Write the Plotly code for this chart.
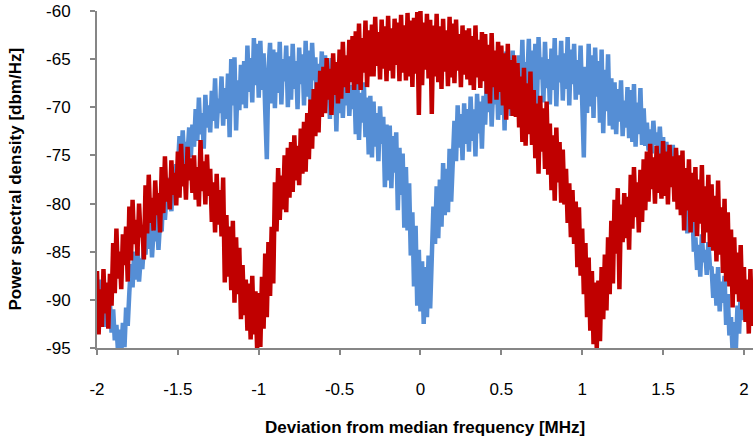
import numpy as np
import plotly.graph_objects as go

# Frequency grid (MHz), 0.01 MHz sampling from -2.00 to 2.06
freq = np.round(np.arange(-2.00, 2.0651, 0.01), 2)

# Blue series (power spectral density, dBm/Hz), one row per 0.1 MHz
psd_blue = [
    -88.4, -91.6, -87.9, -92.3, -89.1, -92.8, -88.6, -91.2, -90.3, -93.4,
    -91.0, -94.2, -92.6, -95.4, -93.1, -95.6, -92.4, -94.9, -90.8, -92.7,
    -89.2, -86.3, -88.7, -85.0, -87.9, -84.6, -88.1, -85.7, -86.8, -84.4,
    -85.3, -82.0, -84.7, -81.4, -85.6, -82.8, -83.9, -81.2, -84.8, -81.9,
    -82.9, -78.6, -81.7, -79.1, -80.4, -77.3, -80.8, -76.5, -79.2, -75.9,
    -76.3, -73.0, -75.6, -72.4, -75.9, -73.6, -74.8, -72.1, -75.2, -71.8,
    -74.1, -70.2, -73.5, -69.0, -72.8, -70.6, -74.3, -68.7, -72.1, -69.8,
    -72.6, -68.3, -71.4, -67.0, -72.2, -69.1, -70.6, -66.8, -71.9, -68.0,
    -71.2, -66.5, -73.1, -65.0, -69.8, -64.8, -72.4, -67.2, -70.3, -65.6,
    -69.7, -65.2, -70.1, -63.6, -68.4, -64.9, -69.5, -62.8, -67.7, -63.4,
    -69.0, -63.1, -68.2, -64.4, -70.3, -75.4, -66.1, -63.3, -69.6, -64.0,
    -70.1, -64.3, -68.5, -63.2, -69.7, -65.0, -67.3, -63.6, -70.0, -64.7,
    -69.2, -63.4, -68.1, -65.2, -70.2, -63.8, -67.6, -64.5, -69.8, -63.1,
    -68.9, -64.1, -69.4, -63.3, -67.2, -64.8, -69.6, -65.5, -68.3, -64.2,
    -70.4, -64.6, -69.1, -65.8, -71.2, -64.9, -69.9, -66.3, -72.5, -66.0,
    -70.6, -66.4, -71.1, -67.2, -69.8, -66.1, -70.9, -67.7, -70.2, -66.9,
    -72.8, -67.6, -73.4, -68.5, -71.6, -67.4, -73.1, -69.0, -74.9, -68.8,
    -75.2, -69.4, -74.1, -70.6, -75.6, -69.9, -73.8, -71.0, -78.3, -71.8,
    -77.6, -71.9, -78.4, -73.0, -76.8, -72.6, -80.7, -74.2, -79.1, -74.8,
    -82.5, -76.2, -82.8, -77.9, -85.4, -80.9, -88.6, -82.3, -90.6, -84.8,
    -91.2, -86.0, -92.5, -86.6, -91.8, -85.4, -90.9, -85.1, -80.3, -84.2,
    -78.2, -83.6, -77.5, -82.4, -75.8, -81.2, -76.4, -80.9, -74.3, -79.8,
    -74.9, -71.4, -75.6, -69.8, -74.2, -70.7, -75.5, -69.6, -73.8, -70.2,
    -74.6, -68.9, -73.5, -70.2, -75.1, -68.6, -72.7, -69.4, -74.3, -68.8,
    -71.8, -67.2, -70.5, -66.1, -72.0, -67.8, -69.7, -65.9, -71.3, -66.4,
    -70.8, -65.0, -72.4, -64.2, -69.6, -65.7, -70.9, -64.1, -68.8, -66.2,
    -70.2, -64.6, -68.4, -63.0, -69.9, -65.3, -67.5, -62.9, -70.3, -64.1,
    -68.6, -63.4, -69.9, -62.7, -67.1, -64.8, -69.5, -63.2, -68.0, -65.0,
    -69.7, -63.9, -68.2, -62.8, -69.9, -64.6, -67.4, -63.1, -69.3, -64.4,
    -68.1, -62.7, -69.8, -64.0, -67.6, -63.4, -69.2, -65.1, -68.7, -63.6,
    -69.5, -75.2, -65.8, -70.6, -63.4, -69.9, -64.6, -71.1, -63.8, -68.9,
    -65.2, -71.6, -64.0, -72.7, -66.1, -70.4, -64.5, -71.9, -67.0, -72.3,
    -67.4, -72.8, -68.1, -71.5, -67.2, -73.0, -69.3, -72.1, -67.9, -73.2,
    -68.2, -73.6, -67.6, -74.1, -69.5, -72.8, -68.0, -73.9, -70.1, -74.0,
    -71.6, -74.5, -72.3, -74.8, -71.4, -73.9, -72.6, -74.7, -72.0, -75.0,
    -73.1, -76.4, -73.6, -75.8, -74.2, -77.3, -73.9, -76.9, -74.5, -78.1,
    -76.0, -80.2, -77.3, -81.5, -76.8, -83.1, -78.6, -82.4, -79.7, -85.0,
    -83.5, -86.9, -84.3, -87.6, -83.2, -86.1, -84.8, -87.4, -84.0, -86.6,
    -86.7, -89.8, -87.3, -90.6, -86.6, -91.2, -88.1, -90.3, -87.5, -92.6,
    -89.4, -93.7, -91.8, -95.4, -92.3, -95.2, -90.6, -93.5, -89.2, -92.1,
    -88.6, -91.9, -89.5, -92.4, -88.9, -91.3, -90.1,
]

# Red series (power spectral density, dBm/Hz), one row per 0.1 MHz
psd_red = [
    -87.0, -93.6, -88.9, -92.8, -86.8, -91.4, -88.2, -93.0, -87.3, -90.6,
    -84.1, -89.3, -82.6, -87.8, -85.0, -88.9, -83.2, -86.4, -82.4, -88.1,
    -80.3, -85.9, -79.6, -84.2, -81.7, -85.4, -80.0, -83.5, -82.2, -85.8,
    -78.1, -83.1, -77.0, -82.0, -79.4, -82.8, -77.6, -81.2, -78.9, -83.0,
    -76.2, -81.0, -75.1, -79.8, -77.4, -80.6, -75.5, -79.1, -76.8, -80.2,
    -74.6, -79.4, -73.8, -78.2, -75.9, -79.6, -74.1, -77.6, -75.3, -78.9,
    -75.0, -79.6, -76.2, -80.3, -73.4, -78.7, -75.6, -80.1, -74.9, -79.2,
    -76.4, -81.9, -77.8, -83.0, -76.9, -82.2, -78.6, -83.4, -77.3, -88.2,
    -81.2, -87.6, -82.4, -89.0, -81.8, -90.3, -83.5, -89.4, -84.6, -92.0,
    -86.4, -91.6, -87.9, -93.2, -88.3, -94.1, -87.5, -93.6, -89.1, -95.1,
    -89.3, -94.9, -87.6, -93.0, -85.2, -91.8, -84.0, -89.6, -82.4, -88.3,
    -77.8, -82.9, -76.3, -81.7, -77.1, -80.6, -75.0, -80.9, -74.2, -79.4,
    -73.6, -78.8, -72.9, -77.6, -74.0, -78.1, -72.2, -76.9, -71.5, -76.7,
    -70.6, -75.4, -69.2, -74.3, -68.1, -73.0, -67.4, -72.6, -66.2, -71.0,
    -65.8, -70.6, -64.9, -69.2, -66.0, -70.8, -64.4, -68.7, -65.3, -69.6,
    -64.0, -69.1, -63.2, -67.9, -64.6, -68.5, -63.0, -67.4, -62.6, -68.2,
    -62.1, -67.6, -61.3, -68.2, -62.8, -66.4, -61.0, -67.9, -62.0, -66.8,
    -61.4, -66.8, -60.6, -65.7, -62.2, -67.1, -60.9, -66.0, -61.6, -67.3,
    -60.5, -66.2, -61.8, -67.0, -60.8, -65.6, -61.2, -67.3, -60.4, -66.4,
    -61.5, -67.2, -60.2, -66.8, -61.0, -67.9, -60.7, -66.5, -60.1, -70.8,
    -60.0, -67.7, -61.2, -66.1, -60.3, -67.0, -60.9, -70.7, -61.5, -66.8,
    -60.3, -67.4, -61.6, -68.1, -60.8, -66.3, -62.0, -67.8, -60.6, -66.9,
    -61.3, -67.5, -60.9, -66.2, -62.4, -67.9, -61.5, -66.6, -62.0, -67.1,
    -61.8, -67.7, -62.6, -68.2, -61.5, -66.9, -63.0, -68.0, -62.2, -67.3,
    -62.4, -68.6, -63.5, -69.6, -62.3, -67.9, -64.1, -69.2, -63.2, -68.4,
    -63.6, -69.8, -64.4, -71.3, -63.4, -70.2, -65.1, -70.9, -64.6, -71.0,
    -65.4, -72.1, -66.8, -73.6, -65.9, -74.0, -67.5, -72.8, -66.3, -73.9,
    -68.2, -75.3, -69.6, -76.9, -68.8, -74.6, -70.1, -76.4, -69.4, -77.0,
    -71.7, -78.6, -72.9, -79.7, -72.1, -77.8, -73.6, -79.9, -74.4, -80.1,
    -76.4, -82.0, -77.9, -83.5, -78.6, -84.2, -79.8, -86.6, -80.4, -87.5,
    -82.6, -89.4, -84.1, -91.8, -85.6, -93.2, -87.0, -94.6, -88.2, -95.1,
    -88.0, -94.3, -86.6, -92.0, -85.3, -91.1, -83.5, -89.4, -81.8, -88.3,
    -79.6, -85.2, -78.4, -88.9, -80.1, -84.0, -78.9, -83.6, -79.3, -84.8,
    -77.0, -82.6, -76.2, -81.4, -77.8, -83.0, -76.5, -81.9, -75.4, -80.7,
    -74.6, -79.8, -73.8, -78.5, -75.2, -80.0, -74.0, -78.9, -74.8, -79.5,
    -73.5, -79.2, -74.6, -80.1, -73.9, -78.3, -75.1, -79.8, -74.2, -80.6,
    -75.0, -81.2, -74.5, -82.8, -76.3, -80.7, -75.4, -83.0, -76.8, -81.9,
    -76.2, -83.4, -77.5, -82.1, -76.0, -84.1, -78.2, -83.0, -77.0, -84.5,
    -78.0, -84.9, -79.2, -86.0, -77.6, -85.3, -80.4, -87.2, -79.5, -88.1,
    -80.9, -88.6, -82.7, -90.8, -83.5, -89.4, -85.1, -90.2, -84.3, -91.0,
    -86.6, -92.3, -87.9, -93.5, -86.8, -92.7, -88.4,
]

assert len(psd_blue) == len(freq) == len(psd_red)

x_ticks = [-2, -1.5, -1, -0.5, 0, 0.5, 1, 1.5, 2]
x_tick_text = ["-2", "-1.5", "-1", "-0.5", "0", "0.5", "1", "1.5", "2"]
y_ticks = [-95, -90, -85, -80, -75, -70, -65, -60]
y_tick_text = ["-95", "-90", "-85", "-80", "-75", "-70", "-65", "-60"]

BLUE = "#558ED5"
RED = "#C00000"
AXIS = "#868686"
FONT = "Liberation Sans, Arial, sans-serif"

fig = go.Figure()
fig.add_trace(go.Scatter(x=freq, y=psd_blue, mode="lines",
                         line=dict(color=BLUE, width=4.5), showlegend=False))
fig.add_trace(go.Scatter(x=freq, y=psd_red, mode="lines",
                         line=dict(color=RED, width=4.5), showlegend=False))

fig.update_layout(
    width=753, height=438,
    margin=dict(l=97, r=0, t=11, b=90),
    paper_bgcolor="white", plot_bgcolor="white",
    font=dict(family=FONT, size=17, color="black"),
    xaxis=dict(range=[-2, 2.056], tickmode="array", tickvals=x_ticks,
               ticktext=x_tick_text, showgrid=False, zeroline=False,
               showline=True, linecolor=AXIS, linewidth=2,
               ticks="outside", ticklen=5, tickwidth=2, tickcolor=AXIS,
               ticklabelstandoff=20),
    yaxis=dict(range=[-95, -60], tickmode="array", tickvals=y_ticks,
               ticktext=y_tick_text, showgrid=False, zeroline=False,
               showline=True, linecolor=AXIS, linewidth=2,
               ticks="outside", ticklen=5, tickwidth=2, tickcolor=AXIS,
               ticklabelstandoff=16),
    annotations=[
        dict(text="<b>Deviation from median frequency [MHz]</b>",
             xref="paper", yref="paper", x=0.5, y=0, yshift=-79,
             xanchor="center", yanchor="middle", showarrow=False,
             font=dict(size=17, family=FONT, color="black")),
        dict(text="<b>Power spectral density [dbm/Hz]</b>",
             xref="paper", yref="paper", x=0, y=0.5, xshift=-82,
             xanchor="center", yanchor="middle", textangle=-90,
             showarrow=False,
             font=dict(size=17, family=FONT, color="black")),
    ],
)

fig.write_html("out.html")
